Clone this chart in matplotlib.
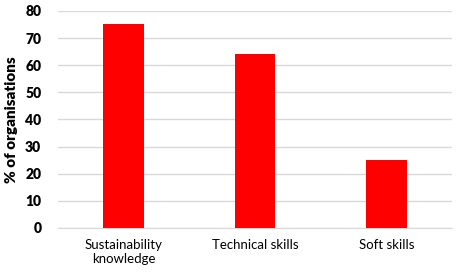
import matplotlib
matplotlib.use("Agg")
import matplotlib.pyplot as plt

# skills gap data
categories = ["Sustainability\nknowledge", "Technical skills", "Soft skills"]
values = [75, 64, 25]
yticks = [0, 10, 20, 30, 40, 50, 60, 70, 80]

plt.rcParams['font.family'] = ['Lato', 'DejaVu Sans']

fig = plt.figure(figsize=(4.6, 2.72), dpi=100)
ax = fig.add_axes([0.126, 0.162, 0.857, 0.798])

x = range(len(categories))
ax.bar(x, values, width=0.31, color="#ff0000", zorder=3)

ax.set_xlim(-0.5, len(categories) - 0.5)
ax.set_ylim(0, 80)
ax.set_yticks(yticks)
ax.set_yticklabels([str(t) for t in yticks], fontsize=10, fontweight="heavy")
ax.set_xticks(list(x))
ax.set_xticklabels(categories, fontsize=9.5, linespacing=1.2)
ax.set_ylabel("% of organisations", fontsize=11, fontweight="heavy", labelpad=5)

ax.grid(axis="y", color="#d9d9d9", linewidth=1, zorder=0)
for s in ["top", "right", "left"]:
    ax.spines[s].set_visible(False)
ax.spines["bottom"].set_color("#d9d9d9")
ax.tick_params(axis="both", length=0)
ax.tick_params(axis="x", pad=8)
ax.tick_params(axis="y", pad=12)

fig.savefig("out.png", dpi=100)
